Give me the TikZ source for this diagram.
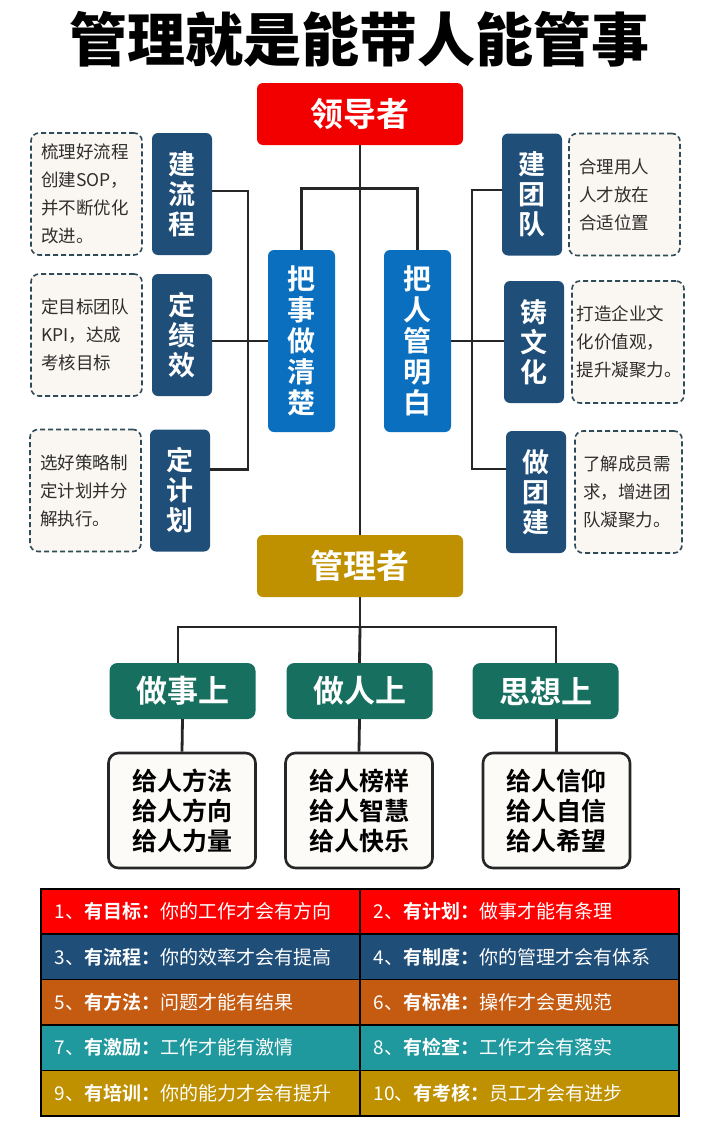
\documentclass[tikz,border=0pt]{standalone}
\usepackage{fontspec}
\setmainfont{Noto Sans CJK SC}[BoldFont={Noto Sans CJK SC Bold}]
\newfontfamily\titlefont{Noto Sans CJK SC Black}
\usepackage{xcolor}
\usetikzlibrary{positioning}
\definecolor{leadred}{HTML}{F20000}
\definecolor{navy}{HTML}{1F4E79}
\definecolor{midblue}{HTML}{0A6FBE}
\definecolor{gold}{HTML}{BF9000}
\definecolor{pine}{HTML}{17705F}
\definecolor{notefill}{HTML}{FAF6F1}
\definecolor{notegray}{HTML}{2F4B57}
\definecolor{givefill}{HTML}{FDFBF8}
\definecolor{linegray}{HTML}{262626}
\definecolor{rowred}{HTML}{FF0000}
\definecolor{rownavy}{HTML}{1F4E79}
\definecolor{roworange}{HTML}{C55A11}
\definecolor{rowteal}{HTML}{1F989E}
\definecolor{rowgold}{HTML}{BF9000}

\begin{document}
\begin{tikzpicture}[
  x=1pt, y=-1pt,
  link/.style={line width=2.8pt, draw=linegray},
  headbox/.style={rounded corners=6pt, minimum width=206pt, minimum height=62pt, text=white, font=\bfseries\fontsize{33}{33}\selectfont},
  sidebox/.style={rounded corners=6pt, fill=navy, minimum width=60pt, minimum height=122pt, text=white, align=center, font=\bfseries\fontsize{27}{30}\selectfont},
  mainbox/.style={rounded corners=6pt, fill=midblue, minimum width=67pt, minimum height=182pt, text=white, align=center, font=\bfseries\fontsize{28}{31}\selectfont},
  notebox/.style={draw=notegray, fill=notefill, line width=1.6pt, dash pattern=on 5pt off 3pt, rounded corners=8pt, text width=91pt, inner xsep=10pt, minimum height=122pt, align=left, text=black!82, font=\fontsize{17.5}{28}\selectfont},
  catbox/.style={rounded corners=8pt, fill=pine, minimum width=146pt, minimum height=56pt, text=white, font=\bfseries\fontsize{31}{31}\selectfont},
  givebox/.style={draw=linegray, fill=givefill, line width=2.6pt, rounded corners=10pt, minimum width=147pt, minimum height=115pt, align=center, font=\bfseries\fontsize{25}{30}\selectfont},
  rowcell/.style={draw=black, line width=1.5pt, anchor=north west, minimum height=45.4pt, text width=291pt, inner xsep=14pt, align=left, text=white, font=\fontsize{19}{20}\selectfont}
]
\fill[white] (0,0) rectangle (712,1148);
\useasboundingbox (0,0) rectangle (712,1148);

% title
\node (title) at (359,39) {\titlefont\fontsize{58}{58}\selectfont 管理就是能带人能管事};

% leader side
\node[headbox, fill=leadred] (leader) at (360,114) {领导者};
\node[mainbox] (thing) at (301.5,341) {把\\事\\做\\清\\楚};
\node[mainbox] (people) at (417.5,341) {把\\人\\管\\明\\白};

\node[sidebox] (flow) at (182,194) {建\\流\\程};
\node[sidebox] (kpi) at (182,335) {定\\绩\\效};
\node[sidebox] (plan) at (180,490.5) {定\\计\\划};
\node[notebox, left=9pt of flow] (flownote) {梳理好流程\\创建SOP，\\并不断优化\\改进。};
\node[notebox, left=9pt of kpi] (kpinote) {定目标团队\\KPI，达成\\考核目标};
\node[notebox, left=8pt of plan] (plannote) {选好策略制\\定计划并分\\解执行。};

\node[sidebox] (team) at (532,194.5) {建\\团\\队};
\node[sidebox] (culture) at (534,342) {铸\\文\\化};
\node[sidebox] (bond) at (536,492) {做\\团\\建};
\node[notebox, right=6pt of team] (teamnote) {合理用人\\人才放在\\合适位置};
\node[notebox, right=7pt of culture, text width=103pt, inner xsep=4.5pt] (culturenote) {打造企业文\\化价值观，\\提升凝聚力。};
\node[notebox, right=8pt of bond, inner xsep=8pt] (bondnote) {了解成员需\\求，增进团\\队凝聚力。};

% manager side
\node[headbox, fill=gold] (manager) at (360,566) {管理者};
\node[catbox] (doing) at (182.5,691) {做事上};
\node[catbox] (being) at (359.5,691) {做人上};
\node[catbox] (mind) at (545.5,691) {思想上};
\node[givebox] (givedo) at (182,810.5) {给人方法\\给人方向\\给人力量};
\node[givebox] (givebe) at (359,810.5) {给人榜样\\给人智慧\\给人快乐};
\node[givebox] (givemind) at (556.5,810.5) {给人信仰\\给人自信\\给人希望};

\coordinate (lbus) at (248,341);
\coordinate (rbus) at (472,341);
\coordinate (cbus) at (360,627);

\draw[link] (leader.south) -- (manager.north);
\draw[link] (thing.north) -- ++(0,-61) -| (people.north);
\draw[link] (thing.west) -- (lbus);
\draw[link] ([yshift=3pt]flow.east) -| (lbus) |- ([yshift=21pt]plan.east);
\draw[link] (kpi.east |- lbus) -- (lbus);
\draw[link] (people.east) -- (rbus);
\draw[link] ([yshift=4.5pt]team.west) -| (rbus) |- ([yshift=23pt]bond.west);
\draw[link] (culture.west |- rbus) -- (rbus);
\draw[link] (manager.south) -- (cbus);
\draw[link] ([xshift=-4.5pt]doing.north) |- (cbus) -| ([xshift=10.5pt]mind.north);
\draw[link] (cbus) -- (being.north);
\draw[link] (doing.south) -- (givedo.north);
\draw[link] (being.south) -- (givebe.north);
\draw[link] (givemind.north) -- (givemind.north |- mind.south);

% rules table
\node[rowcell, fill=rowred] (r1a) at (40,888) {1、\textbf{有目标：}你的工作才会有方向};
\node[rowcell, fill=rowred] (r1b) at (359,888) {2、\textbf{有计划：}做事才能有条理};
\node[rowcell, fill=rownavy] (r2a) at (40,933.4) {3、\textbf{有流程：}你的效率才会有提高};
\node[rowcell, fill=rownavy] (r2b) at (359,933.4) {4、\textbf{有制度：}你的管理才会有体系};
\node[rowcell, fill=roworange] (r3a) at (40,978.8) {5、\textbf{有方法：}问题才能有结果};
\node[rowcell, fill=roworange] (r3b) at (359,978.8) {6、\textbf{有标准：}操作才会更规范};
\node[rowcell, fill=rowteal] (r4a) at (40,1024.2) {7、\textbf{有激励：}工作才能有激情};
\node[rowcell, fill=rowteal] (r4b) at (359,1024.2) {8、\textbf{有检查：}工作才会有落实};
\node[rowcell, fill=rowgold] (r5a) at (40,1069.6) {9、\textbf{有培训：}你的能力才会有提升};
\node[rowcell, fill=rowgold] (r5b) at (359,1069.6) {10、\textbf{有考核：}员工才会有进步};
\end{tikzpicture}
\end{document}
